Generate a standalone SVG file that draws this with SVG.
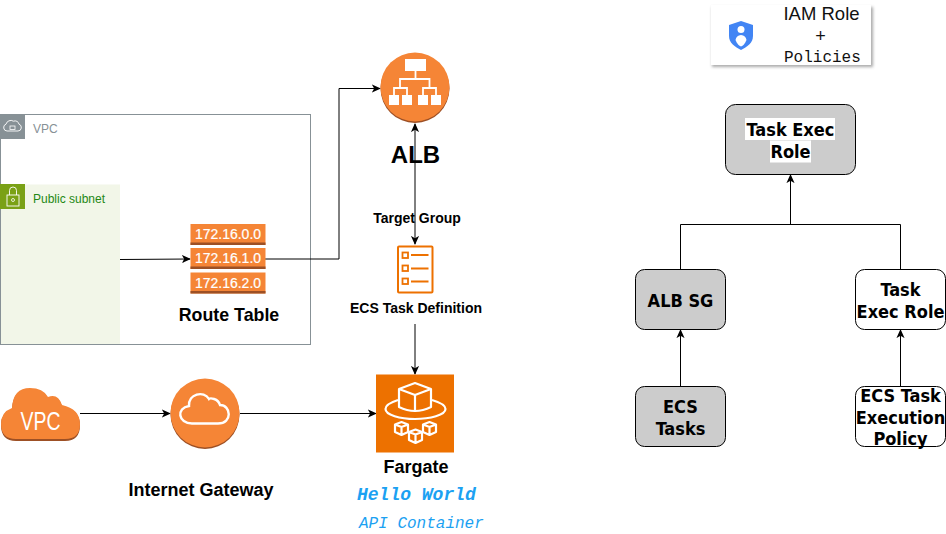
<svg xmlns="http://www.w3.org/2000/svg" width="946" height="534" viewBox="0 0 946 534">
<style>
text{font-family:"Liberation Sans",Arial,sans-serif}
.b{font-weight:700;text-anchor:middle;fill:#000}
.r{font-family:"DejaVu Sans Condensed","DejaVu Sans",sans-serif;font-weight:700;font-size:18px;text-anchor:middle;fill:#000}
.m{font-family:"Liberation Mono","Courier New",monospace;font-style:italic;fill:#1ba1f2}
.pol{font-family:"Liberation Mono","Courier New",monospace;font-size:16px;fill:#111}
.vt{font-size:26px;fill:#fff;text-anchor:middle}
.e{fill:none;stroke:#000;stroke-width:1}
.box{stroke:#000;stroke-width:1}
.g{fill:#ccc}.w{fill:#fff}
.o{fill:#f58536}.d{fill:#9d5025}
.ip{font-size:14px;fill:#fff;text-anchor:middle;stroke:#fff;stroke-width:.2}
.il{fill:none;stroke:#fff;stroke-width:1.800}
</style>
<defs>
<marker id="a" viewBox="0 0 10 10" refX="9" refY="5" markerWidth="9" markerHeight="9" markerUnits="userSpaceOnUse" orient="auto-start-reverse"><path d="M0 0.500L10 5L0 9.500L2.500 5Z" fill="#000"/></marker>
<filter id="s" x="-10%" y="-20%" width="120%" height="140%"><feGaussianBlur stdDeviation="1.500"/></filter>
</defs>
<g id="vpc-group">
<rect x="0.500" y="114.500" width="310" height="230" fill="#fff" stroke="#879196"/>
<rect x="0" y="114" width="25" height="25" fill="#879196"/>
<path d="M7 131h11a3.500 3.500 0 0 0 1-6.800a4 4 0 0 0-5.500-3a5 5 0 0 0-7.500 3a3.500 3.500 0 0 0 1 6.800z" fill="none" stroke="#fff" stroke-width=".9"/>
<rect x="10" y="126" width="5" height="3.500" fill="none" stroke="#fff" stroke-width=".8"/>
<text x="33" y="133" font-size="12" fill="#879196">VPC</text>
</g>
<g id="public-subnet">
<rect x="1" y="184.500" width="119" height="159.500" fill="#f2f6e8"/>
<rect x="0" y="184" width="25" height="25" fill="#7aa116"/>
<rect x="7" y="195" width="12" height="11" fill="none" stroke="#fff" stroke-width=".9"/>
<path d="M9.500 195v-4.500a3.500 3.500 0 0 1 7 0V195" fill="none" stroke="#fff" stroke-width=".9"/>
<circle cx="13" cy="200" r="1.500" fill="none" stroke="#fff" stroke-width=".8"/>
<text x="33" y="203" font-size="12" fill="#248814">Public subnet</text>
</g>
<g id="connectors">
<path class="e" d="M120 259.500L190 259" marker-end="url(#a)"/>
<path class="e" d="M265 259H339V88.500H380" marker-end="url(#a)"/>
<path class="e" d="M415 124V244" marker-start="url(#a)" marker-end="url(#a)"/>
<path class="e" d="M415 324V374" marker-end="url(#a)"/>
<path class="e" d="M80 413.500H170" marker-end="url(#a)"/>
<path class="e" d="M240 413.500H376" marker-end="url(#a)"/>
<path class="e" d="M680.500 269V224.500H900.500V269"/>
<path class="e" d="M790.500 224V175" marker-end="url(#a)"/>
<path class="e" d="M680.500 386V330" marker-end="url(#a)"/>
<path class="e" d="M900.500 386V330" marker-end="url(#a)"/>
</g>
<g id="route-table">
<rect class="o" x="190.500" y="224" width="75" height="21"/><rect class="d" x="190.500" y="242.500" width="75" height="2.500"/>
<rect class="o" x="190.500" y="248" width="75" height="21"/><rect class="d" x="190.500" y="266.500" width="75" height="2.500"/>
<rect class="o" x="190.500" y="272.500" width="75" height="21"/><rect class="d" x="190.500" y="291" width="75" height="2.500"/>
<text class="ip" x="228" y="238.500">172.16.0.0</text>
<text class="ip" x="228" y="263">172.16.1.0</text>
<text class="ip" x="228" y="287.500">172.16.2.0</text>
<text class="b" x="229" y="321" font-size="17.800">Route Table</text>
</g>
<g id="alb">
<circle class="d" cx="415" cy="88.500" r="34.500"/>
<circle class="o" cx="415" cy="87" r="34.500"/>
<rect x="405" y="59" width="21" height="12" fill="#fff"/>
<path class="il" d="M415.500 71v8M400 88v-9h29.500v9M394 95v-7h13v7M423 95v-7h13v7"/>
<rect x="389" y="95" width="10" height="10" fill="#fff"/><rect x="402" y="95" width="10" height="10" fill="#fff"/>
<rect x="418" y="95" width="10" height="10" fill="#fff"/><rect x="431" y="95" width="10" height="10" fill="#fff"/>
<text class="b" x="415.500" y="163" font-size="24">ALB</text>
</g>
<g id="target-group"><text class="b" x="417" y="223" font-size="14">Target Group</text></g>
<g id="ecs-task-definition">
<rect x="398" y="246.500" width="34.500" height="46" rx="1" fill="#fff" stroke="#ed7100" stroke-width="2"/>
<g fill="none" stroke="#ed7100" stroke-width="1.800">
<rect x="402.500" y="252.500" width="5.500" height="5.500"/><rect x="402.500" y="265.500" width="5.500" height="5.500"/><rect x="402.500" y="278.500" width="5.500" height="5.500"/>
<path d="M411 255h17.500M411 268.500h17.500M411 281.500h17.500"/>
</g>
<text class="b" x="416" y="313" font-size="14">ECS Task Definition</text>
</g>
<g id="fargate">
<rect x="376" y="374.500" width="78" height="78" fill="#ed7100"/>
<g fill="none" stroke="#fff" stroke-width="2.200" stroke-linejoin="round">
<path d="M399 389L415 383L431 389V407Q415 415 399 407Z"/><path d="M399 389L415 395L431 389M415 395V412"/>
<path d="M398 400Q385.500 404 385.500 409C385.500 415 400 419 415 419S445.500 415 445.500 409Q445.500 404 432 400"/>
<path d="M395 424.500l6.500-2.500l6.500 2.500v7.500l-6.500 3l-6.500-3zM395 424.500l6.500 2.500l6.500-2.500M401.500 427v8"/>
<path d="M423 424.500l6.500-2.500l6.500 2.500v7.500l-6.500 3l-6.500-3zM423 424.500l6.500 2.500l6.500-2.500M429.500 427v8"/>
<path d="M409 432l6.500-2.500l6.500 2.500v8l-6.500 3l-6.500-3zM409 432l6.500 2.500l6.500-2.500M415.500 434.500v8"/>
</g>
<text class="b" x="416" y="473" font-size="18">Fargate</text>
<text class="m" x="357" y="500" font-size="18" font-weight="700">Hello World</text>
<text class="m" x="359" y="528" font-size="16">API Container</text>
</g>
<g id="vpc-cloud">
<path class="d" d="M16 441Q1 441 1 425Q1 413 12 409Q13 389 30 389Q43 389 48 398Q58 394 62 406Q80 410 80 425Q80 441 65 441Z"/>
<path class="o" d="M16 439Q1 439 1 424Q1 412 12 408Q13 388 30 388Q43 388 48 397Q58 393 62 405Q80 409 80 424Q80 439 65 439Z"/>
<text class="vt" x="40.500" y="430" textLength="40" lengthAdjust="spacingAndGlyphs">VPC</text>
</g>
<g id="internet-gateway">
<circle class="d" cx="205" cy="414.500" r="34.500"/>
<circle class="o" cx="205" cy="413" r="34.500"/>
<path d="M192 423.500H218C233 423.500 231 405 220 405C218 398 210 398 209 399C204 390 188 394 189 406C176 408 178 423.500 192 423.500Z" fill="none" stroke="#fff" stroke-width="2.400"/>
<text class="b" x="201" y="495.500" font-size="18">Internet Gateway</text>
</g>
<g id="iam-legend">
<rect x="712" y="7" width="161" height="60" fill="#555" opacity=".5" filter="url(#s)"/>
<rect x="711" y="5" width="160" height="60" fill="#fff"/>
<path d="M741 21L753 25V36C753 43 747 47 741 50C735 47 729 43 729 36V25Z" fill="#4285f4"/>
<circle cx="741" cy="29.500" r="3.500" fill="#fff"/>
<path d="M741 35a6 6 0 0 1 5.500 5C745 44 743 45.500 741 46.500C739 45.500 737 44 735.500 40A6 6 0 0 1 741 35Z" fill="#fff"/>
<text x="821.500" y="20" font-size="18.500" text-anchor="middle" fill="#111">IAM Role</text>
<text x="820.500" y="42" font-size="18" text-anchor="middle" fill="#111">+</text>
<text class="pol" x="784" y="62">Policies</text>
</g>
<g id="task-exec-role-top">
<rect class="box g" x="725.500" y="104.500" width="130" height="70" rx="10"/>
<rect x="745" y="118" width="90" height="22" fill="#fff"/><rect x="770" y="140.500" width="41" height="22" fill="#fff"/>
<text class="r" x="790.500" y="136">Task Exec</text><text class="r" x="790.500" y="158">Role</text>
</g>
<g id="alb-sg">
<rect class="box g" x="635.500" y="269.500" width="90" height="60" rx="9"/>
<text class="r" x="680.500" y="307">ALB SG</text>
</g>
<g id="task-exec-role">
<rect class="box w" x="855.500" y="269.500" width="90" height="60" rx="9"/>
<text class="r" x="900.500" y="296">Task</text><text class="r" x="900.500" y="318">Exec Role</text>
</g>
<g id="ecs-tasks">
<rect class="box g" x="635.500" y="386.500" width="90" height="60" rx="9"/>
<text class="r" x="680.500" y="413">ECS</text><text class="r" x="680.500" y="435">Tasks</text>
</g>
<g id="ecs-task-execution-policy">
<rect class="box w" x="855.500" y="386.500" width="90" height="60" rx="9"/>
<text class="r" x="900.500" y="402">ECS Task</text><text class="r" x="900.500" y="424">Execution</text><text class="r" x="900.500" y="445">Policy</text>
</g>
</svg>
